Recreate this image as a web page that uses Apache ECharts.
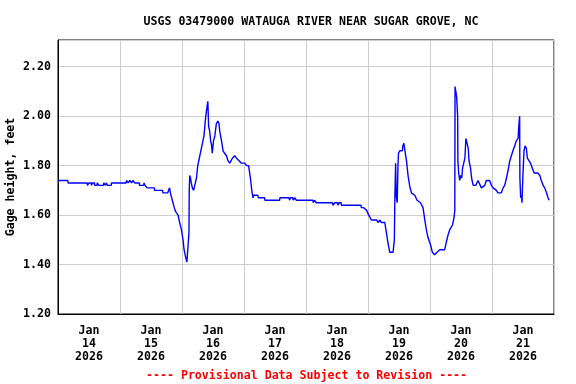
<!DOCTYPE html>
<html>
<head>
<meta charset="utf-8">
<script src="https://cdn.jsdelivr.net/npm/echarts@6/dist/echarts.min.js"></script>
<style>
html,body{margin:0;padding:0;background:#fff;}
#chart{width:576px;height:384px;}
</style>
</head>
<body>
<div id="chart"></div>
<script>
// Chart texts
const chartTitle = 'USGS 03479000 WATAUGA RIVER NEAR SUGAR GROVE, NC';
const yAxisTitle = 'Gage height, feet';
const footerNote = '---- Provisional Data Subject to Revision ----';

// X axis: hours since Jan 14 2026 00:00, one label per day (at noon)
const monthLabel = 'Jan';
const yearLabel = '2026';
const dayLabels = [14, 15, 16, 17, 18, 19, 20, 21];
const hoursPerDay = 24;

// Y axis range (feet)
const yMin = 1.20;
const yMax = 2.308;
const yStep = 0.20;

// Gage readings: [hours since Jan 14 00:00, gage height ft]
const gageReadings = [
[0,1.74],[3.8,1.74],[3.9,1.73],[11.3,1.73],[11.4,1.72],[11.9,1.72],[12.0,1.73],[12.9,1.73],
[13.0,1.72],[13.2,1.72],[13.3,1.73],[14.1,1.73],[14.2,1.72],[15.1,1.72],[15.2,1.73],[15.7,1.73],
[15.8,1.72],[17.6,1.72],[17.7,1.73],[18.3,1.73],[18.4,1.72],[18.6,1.72],[18.7,1.73],[19.1,1.73],
[19.2,1.72],[20.6,1.72],[20.7,1.73],[26.4,1.73],[26.5,1.74],[27.1,1.74],[27.2,1.73],[27.7,1.73],
[27.8,1.74],[28.4,1.74],[28.5,1.73],[28.9,1.73],[29.0,1.74],[29.6,1.74],[29.7,1.73],[31.5,1.73],
[31.6,1.72],[33.2,1.72],[33.3,1.73],[33.6,1.73],[33.7,1.72],[34.4,1.72],[34.5,1.71],[37.3,1.71],
[37.4,1.70],[40.5,1.70],[40.6,1.69],[42.5,1.69],[42.8,1.70],[43.2,1.71],[43.5,1.69],[44.0,1.67],
[44.5,1.65],[45.0,1.63],[45.3,1.62],[45.8,1.61],[46.5,1.60],[47.1,1.57],[47.8,1.54],[48.4,1.50],
[48.8,1.46],[49.4,1.43],[49.9,1.41],[50.6,1.41],[50.7,1.53],[50.8,1.70],[51.0,1.76],[51.3,1.75],
[51.6,1.73],[52.0,1.71],[52.5,1.70],[52.9,1.70],[53.6,1.75],[54.1,1.80],[54.9,1.84],[55.5,1.87],
[56.1,1.87],[56.5,1.92],[57.1,1.99],[57.7,2.04],[58.0,2.06],[58.1,2.03],[58.3,1.96],[58.7,1.94],
[59.1,1.90],[59.5,1.88],[59.7,1.85],[59.9,1.85],[60.2,1.90],[60.7,1.92],[61.3,1.97],[61.9,1.98],
[62.3,1.97],[62.6,1.94],[63.3,1.90],[63.9,1.86],[64.5,1.85],[65.2,1.84],[65.8,1.82],[66.5,1.81],
[67.1,1.81],[67.5,1.83],[68.4,1.84],[69.1,1.83],[70.1,1.82],[71.0,1.81],[72.3,1.81],[73.0,1.80],
[73.8,1.80],[74.2,1.77],[74.6,1.74],[75.0,1.70],[75.5,1.67],[75.7,1.68],[77.4,1.68],[77.5,1.67],
[80.0,1.67],[80.1,1.66],[85.8,1.66],[85.9,1.67],[89.5,1.67],[89.6,1.66],[89.9,1.66],[90.0,1.67],
[90.9,1.67],[91.0,1.66],[91.5,1.66],[91.6,1.67],[92.2,1.67],[92.3,1.66],[98.7,1.66],[98.8,1.65],
[99.2,1.65],[99.3,1.66],[99.9,1.66],[100.0,1.65],[106.3,1.65],[106.4,1.64],[107.1,1.64],[107.2,1.65],
[108.3,1.65],[108.4,1.64],[108.7,1.64],[108.8,1.65],[109.6,1.65],[109.7,1.64],[117.3,1.64],[117.4,1.63],
[118.3,1.63],[119.4,1.62],[120.3,1.60],[121.3,1.58],[123.3,1.58],[124.0,1.57],[124.5,1.58],[125.2,1.57],
[126.5,1.57],[127.1,1.53],[127.7,1.49],[128.4,1.45],[129.7,1.45],[130.2,1.50],[130.4,1.67],[130.7,1.81],
[130.9,1.68],[131.3,1.65],[131.6,1.80],[131.8,1.85],[132.3,1.86],[133.3,1.86],[133.5,1.88],[133.9,1.89],
[134.3,1.86],[134.9,1.82],[135.5,1.76],[136.1,1.72],[136.8,1.69],[138.1,1.68],[139.0,1.66],[140.3,1.65],
[141.3,1.63],[142.0,1.58],[142.6,1.54],[143.2,1.51],[144.2,1.48],[144.9,1.45],[145.8,1.44],[146.7,1.45],
[147.8,1.46],[149.7,1.46],[150.3,1.49],[151.0,1.52],[151.6,1.54],[152.7,1.56],[153.3,1.59],[153.6,1.62],
[153.7,2.12],[154.2,2.12],[154.3,2.08],[154.7,2.00],[154.8,1.82],[155.1,1.77],[155.5,1.74],[155.9,1.76],
[156.3,1.75],[156.6,1.79],[157.1,1.79],[157.5,1.83],[157.9,1.91],[158.4,1.91],[158.8,1.87],[159.1,1.82],
[159.7,1.79],[160.1,1.75],[160.7,1.72],[161.7,1.72],[162.6,1.74],[163.3,1.74],[163.9,1.71],[164.5,1.71],
[165.2,1.72],[165.8,1.74],[167.1,1.74],[167.8,1.72],[168.4,1.71],[169.7,1.70],[170.3,1.69],[171.6,1.69],
[172.3,1.71],[172.9,1.72],[173.6,1.75],[174.2,1.78],[174.9,1.82],[175.5,1.84],[176.1,1.86],[176.8,1.88],
[177.4,1.90],[178.1,1.91],[178.3,1.95],[178.7,2.00],[178.8,1.75],[179.1,1.67],[179.4,1.68],[179.6,1.65],
[180.0,1.77],[180.4,1.86],[180.8,1.88],[181.3,1.87],[181.7,1.83],[182.3,1.82],[182.9,1.81],[183.6,1.79],
[184.3,1.77],[185.8,1.77],[186.5,1.76],[187.1,1.74],[187.8,1.72],[188.4,1.71],[189.1,1.69],[189.7,1.67],
[190.1,1.66]
];

const FONT = '"DejaVu Sans Mono", "Liberation Mono", monospace';
const FS = 11.6;
const xMax = dayLabels.length * hoursPerDay;

const chart = echarts.init(document.getElementById('chart'), null, {renderer: 'canvas'});
chart.setOption({
  animation: false,
  backgroundColor: '#ffffff',
  title: {
    text: chartTitle,
    left: 306,
    top: 11,
    textAlign: 'center',
    textStyle: {fontFamily: FONT, fontSize: FS, fontWeight: 'bold', color: '#000'}
  },
  grid: {
    left: 58, right: 22, top: 40, bottom: 70,
    containLabel: false, outerBoundsMode: 'none',
    show: true, borderColor: '#000', borderWidth: 1, backgroundColor: 'transparent'
  },
  xAxis: [
    {
      type: 'value', min: 0, max: xMax, interval: hoursPerDay,
      axisLine: {show: true, onZero: false, lineStyle: {color: '#000', width: 1}},
      axisTick: {show: false},
      axisLabel: {show: false},
      splitLine: {show: true, lineStyle: {color: '#cccccc', width: 1}}
    },
    {
      type: 'value', min: 0, max: xMax, interval: hoursPerDay / 2, position: 'bottom',
      axisLine: {show: false}, axisTick: {show: false}, splitLine: {show: false},
      axisLabel: {
        show: true, margin: 11, lineHeight: 12.7,
        fontFamily: FONT, fontSize: FS, fontWeight: 'bold', color: '#000', align: 'center',
        formatter: function (v) {
          const k = Math.round(v / (hoursPerDay / 2));
          if (k % 2 === 0) return '';
          const d = dayLabels[(k - 1) / 2];
          return d === undefined ? '' : monthLabel + '\n' + d + '\n' + yearLabel;
        }
      }
    }
  ],
  yAxis: {
    type: 'value', min: yMin, max: yMax, interval: yStep,
    name: yAxisTitle, nameLocation: 'middle', nameGap: 41, nameRotate: 90,
    nameMoveOverlap: false,
    nameTextStyle: {fontFamily: FONT, fontSize: FS, fontWeight: 'bold', color: '#000'},
    axisLine: {show: true, lineStyle: {color: '#000', width: 1}},
    axisTick: {show: false},
    axisLabel: {
      margin: 7, showMaxLabel: false,
      fontFamily: FONT, fontSize: FS, fontWeight: 'bold', color: '#000',
      formatter: function (v) { return v.toFixed(2); }
    },
    splitLine: {show: true, lineStyle: {color: '#cccccc', width: 1}}
  },
  graphic: [{
    type: 'text', left: 306 - 160, top: 369.5,
    style: {
      text: footerNote, fill: '#ff0000',
      font: 'bold ' + FS + 'px ' + FONT
    }
  }],
  series: [{
    type: 'line', xAxisIndex: 0, yAxisIndex: 0,
    data: gageReadings, showSymbol: false, symbol: 'none',
    lineStyle: {color: '#0000ff', width: 1.4}
  }]
});
</script>
</body>
</html>
